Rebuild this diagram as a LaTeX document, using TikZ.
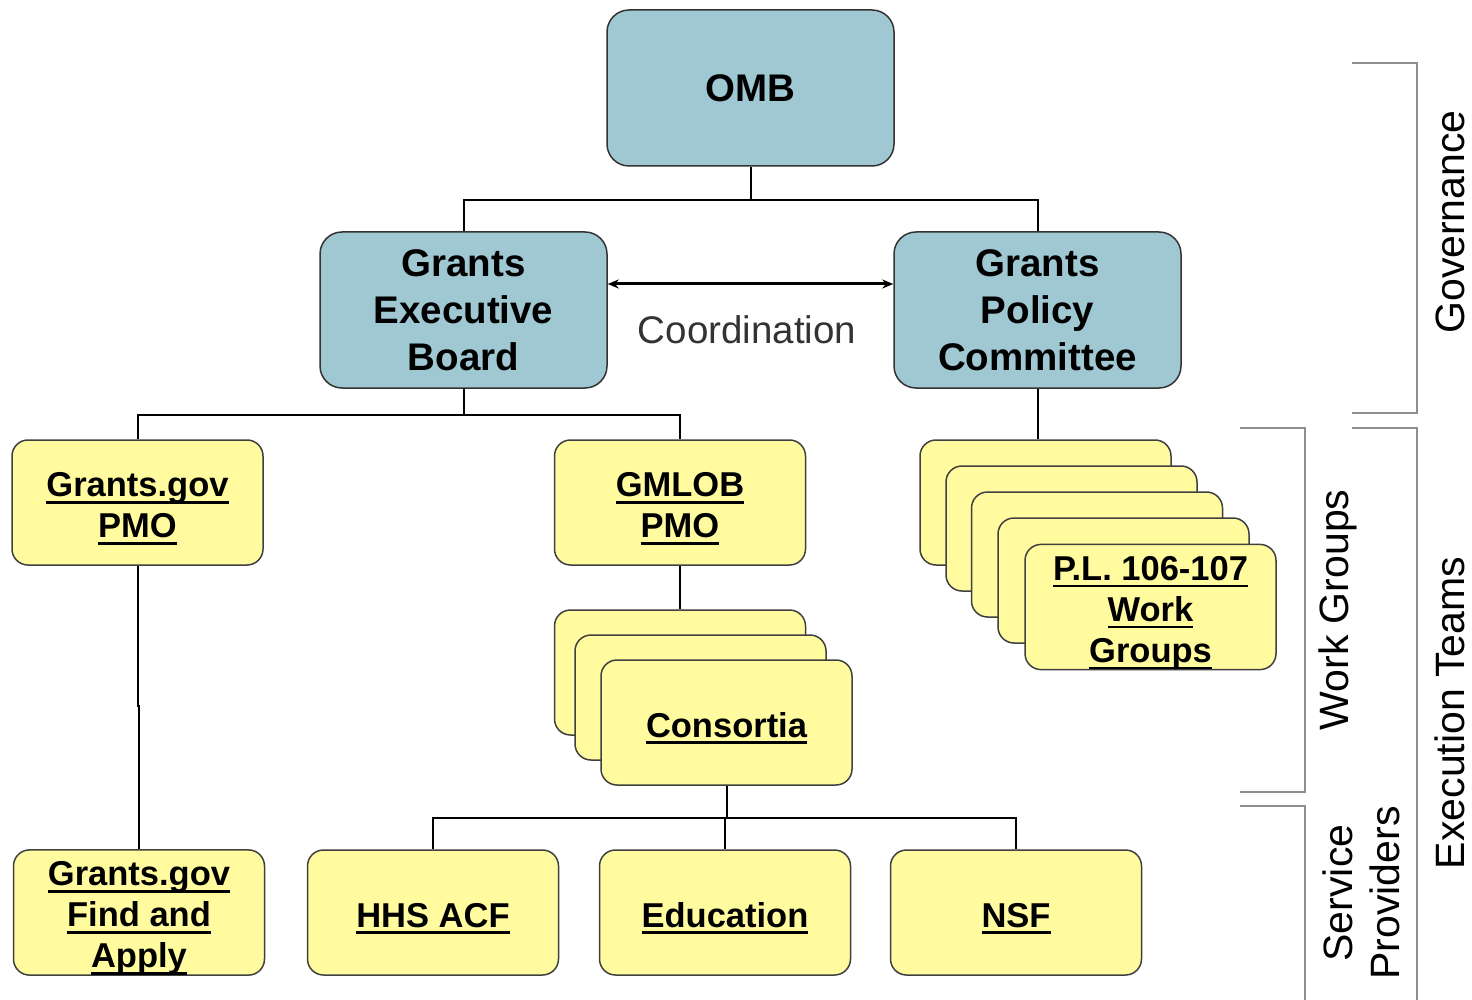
\documentclass[tikz,border=0pt]{standalone}
\usepackage{fontspec}
\setmainfont{Liberation Sans}
\usetikzlibrary{arrows.meta}
\definecolor{govblue}{HTML}{A0C8D3}
\definecolor{wgyellow}{HTML}{FFFB9E}
\definecolor{brgray}{HTML}{8E8E8E}
\newcommand\ulb[1]{\setbox0\hbox{#1}\rlap{\rule[-7pt]{\wd0}{2.8pt}}\box0}
\newcommand\fl{\rule{0pt}{36pt}}
\begin{document}
\begin{tikzpicture}[x=1pt,y=-1pt,
  bluebox/.style={draw=black!80, line width=1.5pt, fill=govblue, rounded corners=22pt,
    minimum width=287pt, minimum height=156pt, inner sep=0pt, align=center,
    font=\bfseries\fontsize{38.5}{47}\selectfont},
  yelbox/.style={draw=black!75, line width=1.5pt, fill=wgyellow, rounded corners=16pt,
    minimum width=251pt, minimum height=125pt, inner sep=0pt, align=center,
    font=\bfseries\fontsize{34.5}{41}\selectfont},
  conn/.style={draw=black, line width=2pt},
  bracket/.style={draw=brgray, line width=2.2pt},
  sidelabel/.style={rotate=90, font=\fontsize{41}{47}\selectfont, align=center}
]
\useasboundingbox (0,0) rectangle (1472,1000);
\fill[white] (0,0) rectangle (1472,1000);

% governance boxes
\node[bluebox] (omb) at (750.5,88) {OMB};
\node[bluebox] (geb) at (463.5,310) {Grants\\Executive\\Board};
\node[bluebox] (gpc) at (1037.5,310) {Grants\\Policy\\Committee};

% yellow boxes
\node[yelbox] (gpmo) at (137.5,502.5) {\fl\ulb{Grants.gov}\\\ulb{PMO}};
\node[yelbox] (gmlob) at (680,502.5) {\fl\ulb{GMLOB}\\\ulb{PMO}};

\node[yelbox] (wg1) at (1045.5,502.5) {};
\node[yelbox] (wg2) at (1071.5,528.5) {};
\node[yelbox] (wg3) at (1097,554.5) {};
\node[yelbox] (wg4) at (1123.5,580.5) {};
\node[yelbox] (wg5) at (1150.5,607) {\fl\ulb{P.L. 106-107}\\\ulb{Work}\\\ulb{Groups}};

\node[yelbox] (cons1) at (680,672.5) {};
\node[yelbox] (cons2) at (700.5,697.5) {};
\node[yelbox] (cons3) at (726.5,722.5) {\fl\ulb{Consortia}};

\node[yelbox] (find) at (139,912.5) {\fl\ulb{Grants.gov}\\\ulb{Find and}\\\ulb{Apply}};
\node[yelbox] (hhs) at (433,912.5) {\fl\ulb{HHS ACF}};
\node[yelbox] (edu) at (725,912.5) {\fl\ulb{Education}};
\node[yelbox] (nsf) at (1016,912.5) {\fl\ulb{NSF}};

% connectors
\coordinate (j1) at (750.5,200);
\coordinate (j2) at (463.5,415);
\coordinate (j3) at (726.5,818);
\draw[conn] (omb.south) -- (j1);
\draw[conn] (geb.north) |- (j1) -| (gpc.north);
\draw[conn] (geb.south) -- (j2);
\draw[conn] (gpmo.north) |- (j2) -| (gmlob.north);
\draw[conn] (gpc.south) -- (gpc.south |- wg1.north);
\draw[conn] (gmlob.south) -- (cons1.north);
\draw[conn] (cons3.south) -- (j3);
\draw[conn] (hhs.north) |- (j3) -| (nsf.north);
\draw[conn] (edu.north) -- (edu.north |- j3);
\draw[conn] (gpmo.south) -- (gpmo.south |- 0,706) -- (find.north |- 0,706) -- (find.north);

% coordination
\draw[line width=3pt, {Stealth[length=11pt,width=9pt]}-{Stealth[length=11pt,width=9pt]}]
  (geb.east |- 0,284) -- (gpc.west |- 0,284);
\node[text=black!80, font=\fontsize{38.5}{46}\selectfont] (coord) at (747,330) {Coordination};

% brackets
\draw[bracket] (1352,63) -- (1417,63) -- (1417,413) -- (1352,413);
\draw[bracket] (1240,428) -- (1305,428) -- (1305,792) -- (1240,792);
\draw[bracket] (1352,428) -- (1417,428) -- (1417,1000);
\draw[bracket] (1240,806) -- (1305,806) -- (1305,1000);

\node[sidelabel] (lgov) at (1450,222) {Governance};
\node[sidelabel] (lwg) at (1338,610) {Work Groups};
\node[sidelabel] (lexe) at (1450,713) {Execution Teams};
\node[sidelabel] (lsp) at (1361,893) {Service\\Providers};
\end{tikzpicture}
\end{document}
